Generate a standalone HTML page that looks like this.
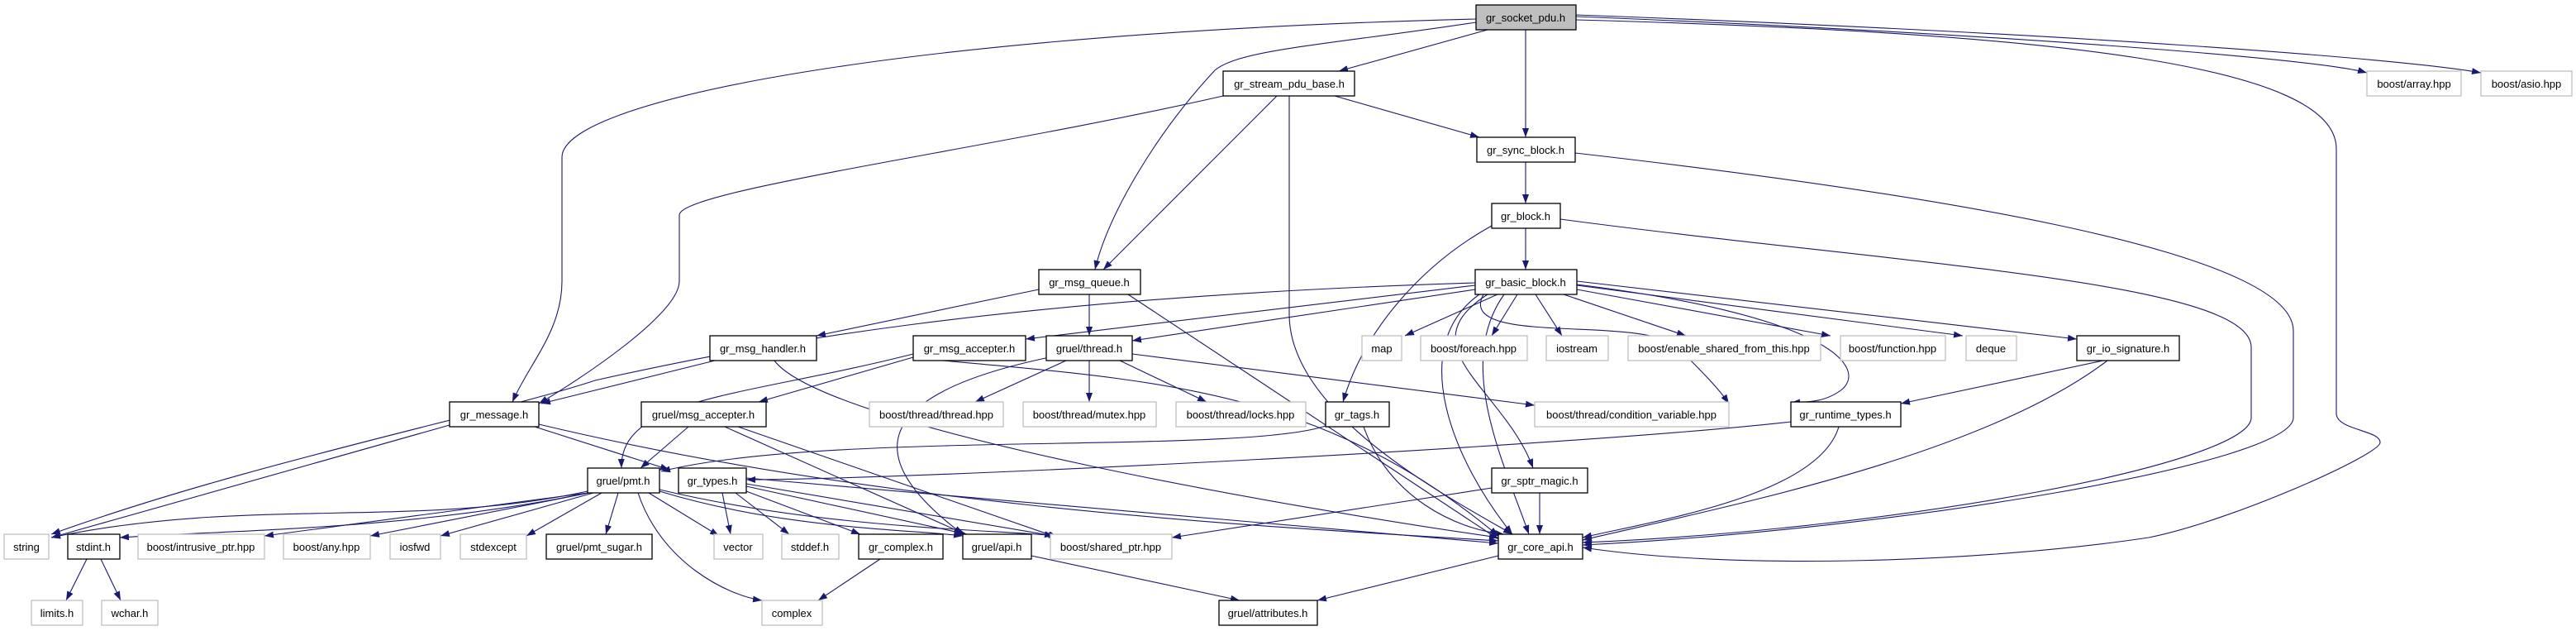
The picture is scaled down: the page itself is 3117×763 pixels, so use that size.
<!DOCTYPE html>
<html><head><meta charset="utf-8"><style>
html,body{margin:0;padding:0;background:#fff;}
svg{display:block;}
text{font-family:"Liberation Sans",sans-serif;font-size:13px;fill:#000;text-anchor:middle;}
.n{fill:#fff;stroke:#000;stroke-width:1.3;}
.g{fill:#fff;stroke:#bfbfbf;stroke-width:1.3;}
.e{fill:none;stroke:#191970;stroke-width:1.1;}
</style></head><body>
<svg width="3117" height="763" viewBox="0 0 3117 763" xmlns="http://www.w3.org/2000/svg">
<defs><marker id="a" markerUnits="userSpaceOnUse" markerWidth="12" markerHeight="10" refX="11" refY="4" orient="auto"><path d="M0,0 L11,4 L0,8 z" fill="#191970"/></marker></defs>
<g class="e" marker-end="url(#a)">
<!-- socket -->
<path d="M1786,23 C1100,40 680,120 680,190 L680,340 C680,400 640,440 620,486"/>
<path d="M1786,27 C1600,55 1500,60 1470,85 C1400,160 1340,260 1325,326"/>
<path d="M1907,24 C2500,40 2827,80 2827,180 L2827,500 C2827,520 2880,520 2880,535 C2880,550 2700,630 2600,650 C2400,680 2100,690 1915,662"/>
<path d="M1907,20 C2400,40 2800,70 2864,88"/>
<path d="M1907,18 C2500,40 2900,70 3002,88"/>
<path d="M1800,36 L1620,86"/>
<path d="M1846,36 L1846,166"/>
<!-- stream -->
<path d="M1615,116 L1790,166"/>
<path d="M1545,116 L1335,326"/>
<path d="M1480,116 C1200,180 822,230 822,260 L822,340 C822,380 700,460 652,488"/>
<path d="M1560,116 L1560,380 C1560,500 1750,600 1830,646"/>
<!-- sync / block -->
<path d="M1846,196 L1846,246"/>
<path d="M1906,185 C2300,230 2775,300 2775,400 L2775,505 C2775,560 2300,640 1915,659"/>
<path d="M1846,276 L1846,326"/>
<path d="M1888,265 C2300,320 2724,340 2724,420 L2724,505 C2724,560 2300,640 1915,656"/>
<path d="M1805,273 C1720,320 1650,400 1625,486"/>
<!-- basic -->
<path d="M1812,356 L1700,406"/>
<path d="M1836,356 L1805,406"/>
<path d="M1858,356 L1890,406"/>
<path d="M1892,356 L2040,406"/>
<path d="M1908,350 L2215,406"/>
<path d="M1908,345 L2375,406"/>
<path d="M1908,340 L2513,410"/>
<path d="M1785,345 L1241,410"/>
<path d="M1785,350 L1370,412"/>
<path d="M1785,342 C1200,360 900,420 720,460 C600,500 300,560 62,646"/>
<path d="M1795,356 C1760,420 1990,380 2030,420 C2060,450 2080,470 2092,488"/>
<path d="M1908,344 C2200,380 2260,440 2230,470 C2210,486 2190,486 2167,487"/>
<path d="M1800,356 C1700,420 1820,470 1855,566"/>
<path d="M1790,356 C1700,420 1760,560 1830,646"/>
<path d="M1820,356 C1760,440 1820,560 1850,646"/>
<!-- msgq -->
<path d="M1257,350 L988,406"/>
<path d="M1318,356 L1318,406"/>
<path d="M1365,356 L1813,652"/>
<!-- row5 -->
<path d="M865,436 L655,488"/>
<path d="M937,436 C1000,520 1600,620 1813,650"/>
<path d="M1105,428 C900,480 750,480 752,566"/>
<path d="M1105,432 L918,486"/>
<path d="M1141,436 C1400,460 1600,470 1813,648"/>
<path d="M1290,436 L1180,486"/>
<path d="M1318,436 L1318,486"/>
<path d="M1355,436 L1460,486"/>
<path d="M1370,428 L1857,490"/>
<path d="M1270,432 C1040,480 1050,560 1165,646"/>
<path d="M2545,436 L2300,488"/>
<path d="M2550,436 C2400,550 2100,610 1915,653"/>
<!-- row6 -->
<path d="M544,514 L62,650"/>
<path d="M647,516 L810,568"/>
<path d="M652,513 C1100,620 1600,640 1813,654"/>
<path d="M833,516 L775,566"/>
<path d="M877,516 L1168,646"/>
<path d="M893,516 L1280,650"/>
<path d="M1604,515 C1500,550 1000,520 800,570"/>
<path d="M1650,516 C1680,600 1760,640 1820,646"/>
<path d="M2167,510 C1900,540 1100,580 903,580"/>
<path d="M2225,516 C2200,600 2000,630 1915,650"/>
<!-- row7 -->
<path d="M711,594 C500,640 300,600 62,650"/>
<path d="M711,596 C500,640 300,640 145,650"/>
<path d="M711,596 L320,648"/>
<path d="M713,596 L448,648"/>
<path d="M718,596 L533,648"/>
<path d="M728,596 L637,648"/>
<path d="M748,596 L733,646"/>
<path d="M785,596 L870,648"/>
<path d="M772,596 C800,680 880,720 922,726"/>
<path d="M798,594 C950,640 1100,640 1165,648"/>
<path d="M798,592 C1000,640 1200,640 1280,648"/>
<path d="M874,596 L884,646"/>
<path d="M890,596 L955,646"/>
<path d="M903,594 L1041,646"/>
<path d="M903,588 L1170,646"/>
<path d="M903,585 L1275,648"/>
<path d="M903,578 L1813,657"/>
<path d="M1805,590 L1418,650"/>
<path d="M1863,596 L1863,646"/>
<!-- row8 -->
<path d="M105,676 L80,726"/>
<path d="M122,676 L146,726"/>
<path d="M1065,676 L990,726"/>
<path d="M1248,672 L1500,726"/>
<path d="M1813,672 L1594,726"/>
</g>
<!-- nodes -->
<rect x="1786" y="6" width="121" height="30" fill="#bfbfbf" stroke="#000" stroke-width="1.3"/><text x="1846" y="26">gr_socket_pdu.h</text>
<rect class="n" x="1480" y="86" width="159" height="30"/><text x="1560" y="106">gr_stream_pdu_base.h</text>
<rect class="g" x="2864" y="86" width="114" height="30"/><text x="2921" y="106">boost/array.hpp</text>
<rect class="g" x="3002" y="86" width="110" height="30"/><text x="3057" y="106">boost/asio.hpp</text>
<rect class="n" x="1787" y="166" width="119" height="30"/><text x="1846" y="186">gr_sync_block.h</text>
<rect class="n" x="1805" y="246" width="83" height="30"/><text x="1846" y="266">gr_block.h</text>
<rect class="n" x="1785" y="326" width="123" height="30"/><text x="1846" y="346">gr_basic_block.h</text>
<rect class="n" x="1257" y="326" width="123" height="30"/><text x="1318" y="346">gr_msg_queue.h</text>
<rect class="n" x="859" y="406" width="129" height="30"/><text x="923" y="426">gr_msg_handler.h</text>
<rect class="n" x="1105" y="406" width="136" height="30"/><text x="1173" y="426">gr_msg_accepter.h</text>
<rect class="n" x="1266" y="406" width="104" height="30"/><text x="1318" y="426">gruel/thread.h</text>
<rect class="g" x="1648" y="406" width="48" height="30"/><text x="1672" y="426">map</text>
<rect class="g" x="1719" y="406" width="129" height="30"/><text x="1783" y="426">boost/foreach.hpp</text>
<rect class="g" x="1871" y="406" width="75" height="30"/><text x="1908" y="426">iostream</text>
<rect class="g" x="1970" y="406" width="233" height="30"/><text x="2086" y="426">boost/enable_shared_from_this.hpp</text>
<rect class="g" x="2227" y="406" width="127" height="30"/><text x="2290" y="426">boost/function.hpp</text>
<rect class="g" x="2379" y="406" width="61" height="30"/><text x="2409" y="426">deque</text>
<rect class="n" x="2513" y="406" width="124" height="30"/><text x="2575" y="426">gr_io_signature.h</text>
<rect class="n" x="544" y="486" width="108" height="30"/><text x="598" y="506">gr_message.h</text>
<rect class="n" x="776" y="486" width="151" height="30"/><text x="851" y="506">gruel/msg_accepter.h</text>
<rect class="g" x="1052" y="486" width="162" height="30"/><text x="1133" y="506">boost/thread/thread.hpp</text>
<rect class="g" x="1238" y="486" width="161" height="30"/><text x="1318" y="506">boost/thread/mutex.hpp</text>
<rect class="g" x="1423" y="486" width="157" height="30"/><text x="1501" y="506">boost/thread/locks.hpp</text>
<rect class="n" x="1604" y="486" width="77" height="30"/><text x="1642" y="506">gr_tags.h</text>
<rect class="g" x="1857" y="486" width="235" height="30"/><text x="1974" y="506">boost/thread/condition_variable.hpp</text>
<rect class="n" x="2167" y="486" width="133" height="30"/><text x="2233" y="506">gr_runtime_types.h</text>
<rect class="n" x="711" y="566" width="87" height="30"/><text x="754" y="586">gruel/pmt.h</text>
<rect class="n" x="821" y="566" width="82" height="30"/><text x="862" y="586">gr_types.h</text>
<rect class="n" x="1805" y="566" width="116" height="30"/><text x="1863" y="586">gr_sptr_magic.h</text>
<rect class="g" x="5" y="646" width="54" height="30"/><text x="32" y="666">string</text>
<rect class="n" x="82" y="646" width="63" height="30"/><text x="113" y="666">stdint.h</text>
<rect class="g" x="167" y="646" width="153" height="30"/><text x="243" y="666">boost/intrusive_ptr.hpp</text>
<rect class="g" x="343" y="646" width="105" height="30"/><text x="395" y="666">boost/any.hpp</text>
<rect class="g" x="472" y="646" width="61" height="30"/><text x="502" y="666">iosfwd</text>
<rect class="g" x="557" y="646" width="80" height="30"/><text x="597" y="666">stdexcept</text>
<rect class="n" x="661" y="646" width="128" height="30"/><text x="725" y="666">gruel/pmt_sugar.h</text>
<rect class="g" x="864" y="646" width="59" height="30"/><text x="893" y="666">vector</text>
<rect class="g" x="946" y="646" width="69" height="30"/><text x="980" y="666">stddef.h</text>
<rect class="n" x="1039" y="646" width="102" height="30"/><text x="1090" y="666">gr_complex.h</text>
<rect class="n" x="1165" y="646" width="83" height="30"/><text x="1206" y="666">gruel/api.h</text>
<rect class="g" x="1271" y="646" width="147" height="30"/><text x="1344" y="666">boost/shared_ptr.hpp</text>
<rect class="n" x="1813" y="646" width="102" height="30"/><text x="1864" y="666">gr_core_api.h</text>
<rect class="g" x="38" y="726" width="62" height="30"/><text x="69" y="746">limits.h</text>
<rect class="g" x="123" y="726" width="68" height="30"/><text x="157" y="746">wchar.h</text>
<rect class="g" x="922" y="726" width="73" height="30"/><text x="958" y="746">complex</text>
<rect class="n" x="1475" y="726" width="119" height="30"/><text x="1534" y="746">gruel/attributes.h</text>
</svg>
</body></html>
